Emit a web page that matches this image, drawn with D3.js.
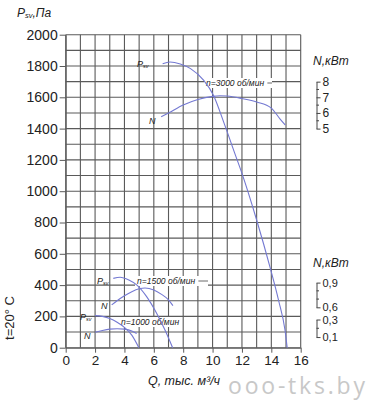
<!DOCTYPE html>
<html lang="ru">
<head>
<meta charset="UTF-8">
<script src="https://cdn.jsdelivr.net/npm/d3@7"></script>
<style>
  body { margin: 0; background: #fff; }
  svg { font-family: "Liberation Sans", Arial, sans-serif; }
</style>
</head>
<body>
<script>
// Q, тыс. м3/ч
const xTicks = [0, 2, 4, 6, 8, 10, 12, 14, 16]
const yTicks = [0, 200, 400, 600, 800, 1000, 1200, 1400, 1600, 1800, 2000]

// n=3000
const q3000P = [6.6, 7.1, 7.8, 8.5, 9.4, 10.05, 10.8, 11.5, 12.0, 13.0, 13.9, 14.5, 14.93, 15.08]
const p3000 = [1815, 1826, 1813, 1783, 1708, 1615, 1430, 1245, 1114, 816, 518, 300, 113, 0]
const q3000N = [6.5, 7, 8, 9, 10, 10.5, 11, 12, 13, 14, 14.6, 14.95]
const n3000 = [5.76, 6.0, 6.51, 6.86, 7.06, 7.1, 7.08, 6.92, 6.7, 6.31, 5.61, 5.23]

// n=1500
const q1500P = [3.24, 3.7, 4.3, 4.83, 5.51, 6.19, 6.76, 7.28]
const p1500 = [443, 450, 432, 401, 326, 220, 113, 0]
const q1500N = [3.13, 3.5, 4, 4.5, 5, 5.4, 6, 6.5, 7, 7.3]
const n1500 = [0.63, 0.68, 0.74, 0.79, 0.825, 0.835, 0.81, 0.76, 0.69, 0.62]

// n=1000
const q1000P = [2, 2.5, 3, 3.5, 4, 4.5, 4.98]
const p1000 = [205, 200, 187, 163, 130, 80, 0]
const q1000N = [2, 2.5, 3, 3.5, 4, 4.5, 4.83]
const n1000 = [0.155, 0.175, 0.19, 0.195, 0.19, 0.17, 0.14]

// шкалы мощности справа
const nTicks3000 = [5, 6, 7, 8]
const nTicks1500 = [0.6, 0.9]
const nTicks1000 = [0.1, 0.3]

const width = 369, height = 401
const curveColor = "#7479d2"
const gridColor = "#5a5a5a"

const svg = d3.select("body").append("svg").attr("width", width).attr("height", height)

const x = d3.scaleLinear().domain([0, 16]).range([65.7, 300.7])
const y = d3.scaleLinear().domain([0, 2000]).range([347.7, 34.7])

// правые шкалы N, привязаны к шкале давления
const yN3000 = d3.scaleLinear().domain([5, 8]).range([y(1400), y(1700)])
const yN1500 = d3.scaleLinear().domain([0.6, 0.9]).range([y(258), y(416)])
const yN1000 = d3.scaleLinear().domain([0.1, 0.3]).range([y(68), y(180)])

// сетка
const grid = svg.append("g").attr("stroke", gridColor).attr("stroke-width", 1.1)
grid.selectAll(".vl").data(d3.range(0, 17)).enter().append("line")
    .attr("x1", d => x(d)).attr("x2", d => x(d))
    .attr("y1", y(0)).attr("y2", y(2000))
grid.selectAll(".hl").data(d3.range(0, 2001, 100)).enter().append("line")
    .attr("x1", x(0)).attr("x2", x(16))
    .attr("y1", d => y(d)).attr("y2", d => y(d))

// оси
const xAxis = svg.append("g").attr("transform", `translate(0,${y(0)})`)
    .call(d3.axisBottom(x).tickValues(xTicks).tickSize(5).tickSizeOuter(0).tickPadding(3))
const yAxis = svg.append("g").attr("transform", `translate(${x(0)},0)`)
    .call(d3.axisLeft(y).tickValues(yTicks).tickFormat(d3.format("d")).tickSize(6).tickSizeOuter(0).tickPadding(2))
;[xAxis, yAxis].forEach(a => {
    a.select(".domain").attr("stroke", gridColor)
    a.selectAll("line").attr("stroke", gridColor)
    a.selectAll("text").attr("fill", "#222").style("font-size", "13.5px")
        .style("font-family", "Liberation Sans, Arial, sans-serif")
})
yAxis.selectAll("text").style("font-size", "14px")

// подписи кривых
const labelGroup = svg.append("g")
function nLabel(text, x0, y0, x1) {
    const t = labelGroup.append("text").attr("x", x0).attr("y", y0)
        .style("font-size", "8.5px").style("font-style", "italic").attr("fill", "#222").text(text)
    const bb = t.node().getBBox()
    labelGroup.insert("rect", "text").attr("x", bb.x - 2).attr("y", bb.y)
        .attr("width", (x1 || bb.x + bb.width + 2) - bb.x + 2).attr("height", bb.height).attr("fill", "#fff")
    if (x1) labelGroup.append("line").attr("x1", bb.x + bb.width + 3).attr("x2", x1)
        .attr("y1", y0 - 3).attr("y2", y0 - 3).attr("stroke", "#444").attr("stroke-width", 0.8)
}
nLabel("n=3000 об/мин", 206, 86, 272)
nLabel("n=1500 об/мин", 137, 284, 208)
nLabel("n=1000 об/мин", 121, 325)

// кривые
const line = (xs, ys, sy) => d3.line().curve(d3.curveMonotoneX)
    .x((d, i) => x(xs[i])).y((d, i) => sy(ys[i]))(xs)
const curves = [
    [q3000P, p3000, y], [q3000N, n3000, yN3000],
    [q1500P, p1500, y], [q1500N, n1500, yN1500],
    [q1000P, p1000, y], [q1000N, n1000, yN1000],
]
svg.append("g").selectAll("path").data(curves).enter().append("path")
    .attr("d", d => line(d[0], d[1], d[2]))
    .attr("fill", "none").attr("stroke", curveColor).attr("stroke-width", 1.1)

function psv(x0, y0, fs) {
    const t = svg.append("text").attr("x", x0).attr("y", y0).attr("fill", "#222")
        .style("font-style", "italic").style("font-size", fs + "px")
    t.append("tspan").text("P")
    t.append("tspan").attr("dy", 1).style("font-size", (fs * 0.6) + "px").text("sv")
}
function nText(x0, y0) {
    svg.append("text").attr("x", x0).attr("y", y0).attr("fill", "#222")
        .style("font-style", "italic").style("font-size", "9px").text("N")
}
psv(137, 67, 9); nText(149, 124)
psv(97, 284, 9); nText(101, 309)
psv(80, 320, 9); nText(84, 339)

// правые оси N
function rightAxis(scale, ticks, minor) {
    const g = svg.append("g").attr("transform", "translate(316.5,0)")
    g.call(d3.axisRight(scale).tickValues(ticks).tickSize(4).tickSizeOuter(0).tickPadding(2)
        .tickFormat(d => String(d).replace(".", ",")))
    g.select(".domain").attr("stroke", "#444")
    g.selectAll("line").attr("stroke", "#444")
    g.selectAll("text").attr("fill", "#222").style("font-size", "11px")
        .style("font-family", "Liberation Sans, Arial, sans-serif")
    g.selectAll(".minor").data(minor).enter().append("line")
        .attr("x1", 0).attr("x2", 2.5).attr("y1", d => scale(d)).attr("y2", d => scale(d))
        .attr("stroke", "#444")
    return g
}
rightAxis(yN3000, nTicks3000, [5.5, 6.5, 7.5]).selectAll("text").style("font-size", "12px")
rightAxis(yN1500, nTicks1500, [0.7, 0.8])
rightAxis(yN1000, nTicks1000, [0.2])

// заголовки
const title = svg.append("text").attr("x", 17).attr("y", 17).attr("fill", "#222")
    .style("font-style", "italic").style("font-size", "12px")
title.append("tspan").text("P")
title.append("tspan").attr("dy", 1).style("font-size", "7.5px").text("sv")
title.append("tspan").attr("dy", -1).text(",Па")

svg.append("text").attr("x", 313).attr("y", 65).attr("fill", "#222")
    .style("font-style", "italic").style("font-size", "12px").text("N,кВт")
svg.append("text").attr("x", 313).attr("y", 267).attr("fill", "#222")
    .style("font-style", "italic").style("font-size", "12px").text("N,кВт")

svg.append("text").attr("transform", "translate(14,318) rotate(-90)")
    .attr("text-anchor", "middle").attr("fill", "#222").style("font-size", "13px").text("t=20° C")

svg.append("text").attr("x", 184).attr("y", 385).attr("text-anchor", "middle").attr("fill", "#222")
    .style("font-style", "italic").style("font-size", "12.5px").text("Q, тыс. м³/ч")

svg.append("text").attr("x", 228).attr("y", 394).attr("fill", "#c8c8c8")
    .attr("textLength", 137).attr("lengthAdjust", "spacing")
    .style("font-family", "Open Sans, sans-serif").style("font-size", "23px").text("ooo-tks.by")
</script>
</body>
</html>
